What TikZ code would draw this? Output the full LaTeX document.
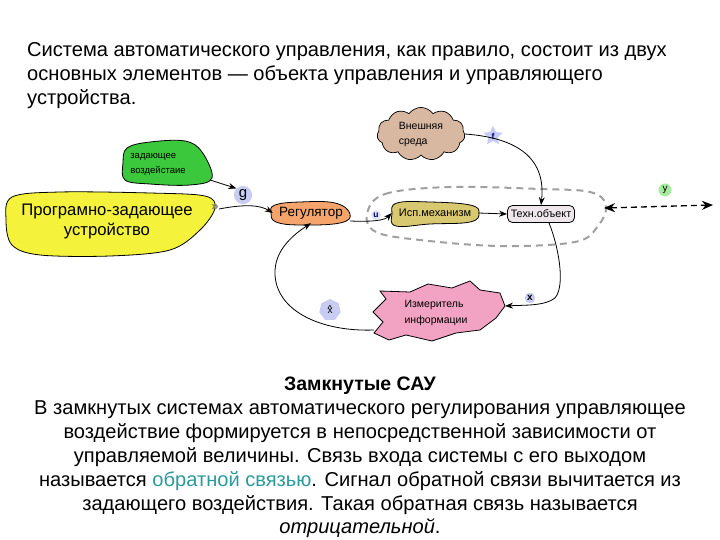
\documentclass[tikz,border=0pt]{standalone}
\usepackage{fontspec}
\setmainfont{Liberation Sans}
\usetikzlibrary{shapes.symbols,shapes.geometric,arrows.meta}
\definecolor{cgreen}{HTML}{3CC83C}
\definecolor{cyellow}{HTML}{F5F23C}
\definecolor{corange}{HTML}{F5A46C}
\definecolor{ckhaki}{HTML}{D8C870}
\definecolor{ctech}{HTML}{EEE6EA}
\definecolor{ctan}{HTML}{D9B8A2}
\definecolor{cpink}{HTML}{F2A2C2}
\definecolor{clblue}{HTML}{C8CCF2}
\definecolor{clgreen}{HTML}{A8EAA0}
\definecolor{cteal}{HTML}{2A9A9A}
\definecolor{cdash}{HTML}{A0A0A0}
\tikzset{
  conn/.style={draw=black, line width=0.8pt, -{Stealth[length=8pt,width=6pt]}},
  blob/.style={draw=black, line width=0.8pt},
  bigtxt/.style={font=\fontsize{20.1}{24}\selectfont, inner sep=0pt},
  small/.style={align=left, inner sep=0pt}
}
\begin{document}
\begin{tikzpicture}[x=1pt,y=-1pt]
\useasboundingbox (0,0) rectangle (720,540);
% top text
\node[bigtxt, anchor=base west] (t1) at (27,57) {Система автоматического управления, как правило, состоит из двух};
\node[bigtxt, anchor=base west] (t2) at (27,81) {основных элементов — объекта управления и управляющего};
\node[bigtxt, anchor=base west] (t3) at (27,105) {устройства.};
% bottom text
\node[bigtxt, anchor=base, font=\fontsize{19.5}{24}\selectfont\bfseries] (b0) at (360,390) {Замкнутые САУ};
\node[bigtxt, anchor=base] (b1) at (360,414) {В замкнутых системах автоматического регулирования управляющее};
\node[bigtxt, anchor=base] (b2) at (360,438) {воздействие формируется в непосредственной зависимости от};
\node[bigtxt, anchor=base] (b3) at (360,462) {управляемой величины. Связь входа системы с его выходом};
\node[bigtxt, anchor=base] (b4) at (360,486) {называется \textcolor{cteal}{обратной связью}. Сигнал обратной связи вычитается из};
\node[bigtxt, anchor=base] (b5) at (360,510) {задающего воздействия. Такая обратная связь называется};
\node[bigtxt, anchor=base] (b6) at (360,533) {\textit{отрицательной}.};
% green blob
\draw[blob, fill=cgreen] plot[smooth cycle, tension=0.6] coordinates {(127,148) (150,142) (185,141) (202,152) (212,178) (190,185) (150,184) (125,180) (123,163)};
\node[small, font=\fontsize{9.5}{15}\selectfont] (zad) at (158,164) {задающее\\воздейстаие};
% yellow blob
\draw[blob, fill=cyellow] plot[smooth cycle, tension=0.55] coordinates {(12,197) (60,192) (150,193) (205,196) (215,208) (200,230) (170,250) (110,256) (40,255) (12,245) (6,220)};
\node[font=\fontsize{16.7}{20}\selectfont, align=center, inner sep=0pt] (pzu) at (107,221) {Програмно-задающее\\устройство};
\coordinate (pzuout) at (219,209);
\node[text=gray, font=\fontsize{13}{13}\selectfont\bfseries, inner sep=0pt] (chev) at (215,208) {»};
% g label
\node[circle, fill=clblue, inner sep=1.5pt, font=\fontsize{15}{15}\selectfont] (g) at (243,195) {g};
% Регулятор
\draw[blob, fill=corange] plot[smooth cycle, tension=0.7] coordinates {(275,205) (300,202) (335,203) (350,214) (340,223) (300,225) (276,222) (271,213)};
\node[font=\fontsize{13.5}{14}\selectfont, inner sep=0pt, minimum width=76pt, minimum height=20pt] (reg) at (311,213) {Регулятор};
% Исп.механизм
\draw[blob, fill=ckhaki] plot[smooth cycle, tension=0.7] coordinates {(397,203) (430,202) (470,205) (479,213) (470,222) (430,224) (396,226) (392,214)};
\node[font=\fontsize{11}{12}\selectfont, inner sep=0pt, minimum width=86pt, minimum height=22pt] (isp) at (435,213) {Исп.механизм};
% Техн.объект
\node[draw=black, line width=0.8pt, fill=ctech, rounded corners=5pt, font=\fontsize{10.8}{11}\selectfont, inner sep=1.5pt, minimum width=67pt, minimum height=17pt] (tech) at (541,214) {Техн.объект};
% Внешняя среда cloud
\node[cloud, cloud puffs=11, cloud puff arc=110, aspect=1.7, draw=black, line width=0.7pt, fill=ctan, minimum width=88pt, minimum height=48pt, font=\fontsize{10.5}{15}\selectfont, align=left] (env) at (421,134) {Внешняя\\среда};
% Измеритель информации
\draw[blob, fill=cpink] (373,312) -- (386,299) -- (380,291) -- (410,292) -- (428,284) -- (452,288) -- (470,281) -- (480,290) -- (500,293) -- (505,306) -- (496,318) -- (480,330) -- (456,333) -- (432,341) -- (406,335) -- (389,340) -- (374,333) -- (383,322) -- cycle;
\node[small, font=\fontsize{10.5}{16}\selectfont] (meas) at (436,313) {Измеритель\\информации};
\coordinate (measE) at (505,306);
\coordinate (measW) at (374,330);
% dashed loop
\draw[cdash, line width=2pt, dash pattern=on 7pt off 5pt] plot[smooth cycle, tension=0.6] coordinates {(367,214) (385,194) (450,187) (540,189) (590,192) (606,205) (598,226) (575,242) (500,246) (420,240) (376,232)};
% y arrows
\coordinate (yL) at (604,208);
\coordinate (yR) at (713,205);
\draw[dashed, line width=1.3pt, dash pattern=on 6pt off 4pt, {Stealth[length=11pt,width=9pt]}-{Stealth[length=11pt,width=9pt]}] (yL) -- (yR);
\node[circle, fill=clgreen, inner sep=1.5pt, font=\fontsize{10}{10}\selectfont\rmfamily] (ylab) at (665,190) {y};
% f star
\node[star, star points=5, star point ratio=2, fill=clblue, inner sep=0.5pt, minimum size=17pt, font=\fontsize{8.5}{8.5}\selectfont\bfseries, text=blue!50!black] (f) at (493,136) {f};
% u label
\node[circle, fill=clblue!60, inner sep=1pt, font=\fontsize{8.5}{8.5}\selectfont\bfseries, text=blue!40!black] (u) at (376,215) {u};
% x label
\node[circle, fill=clblue, inner sep=1pt, font=\fontsize{10}{10}\selectfont\bfseries] (x) at (530,298) {x};
% x hat label
\node[regular polygon, regular polygon sides=7, fill=clblue, inner sep=0pt, minimum size=22pt, font=\fontsize{10}{9}\selectfont, align=center] (xh) at (330,310) {\raisebox{-3pt}{\textasciicircum}\\[-5pt]x};
% connectors
\draw[conn] (210,180) coordinate (zadout) -- (g.north west);
\draw[conn] (pzuout) .. controls (245,204) and (260,205) .. (reg.west);
\draw[conn] (350,221) .. controls (375,222) and (385,220) .. (isp.west);
\draw[conn] (isp.east) -- (tech.west);
\draw[conn] (env.east) .. controls (520,138) and (546,160) .. (tech.north);
\draw[conn] (tech.south) ++(8,0) .. controls (558,245) and (566,285) .. (555,298) .. controls (545,306) and (525,305) .. (measE);
\draw[conn] (measW) .. controls (320,332) and (273,310) .. (275,270) .. controls (276,255) and (285,240) .. (reg.south);
\end{tikzpicture}
\end{document}
